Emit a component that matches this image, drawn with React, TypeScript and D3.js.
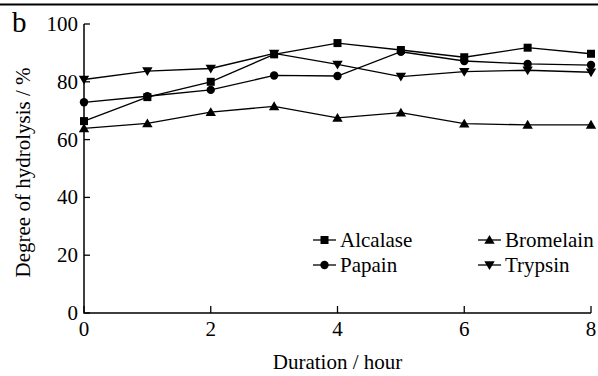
import * as d3 from "d3";
import React from 'react'

const hours = [0, 1, 2, 3, 4, 5, 6, 7, 8]
const alcalase = [66.4, 74.7, 80.0, 89.5, 93.4, 91.0, 88.5, 91.8, 89.7]
const papain = [72.9, 75.0, 77.2, 82.2, 82.0, 90.4, 87.2, 86.2, 85.8]
const bromelain = [63.9, 65.6, 69.5, 71.5, 67.5, 69.3, 65.5, 65.1, 65.1]
const trypsin = [80.8, 83.7, 84.6, 89.8, 86.0, 81.8, 83.5, 84.0, 83.3]
const xTicks = [0, 2, 4, 6, 8]
const yTicks = [0, 20, 40, 60, 80, 100]

type Series = { name: string, values: number[], marker: string }
const series: Series[] = [
  { name: "Alcalase", values: alcalase, marker: "square" },
  { name: "Papain", values: papain, marker: "circle" },
  { name: "Bromelain", values: bromelain, marker: "up" },
  { name: "Trypsin", values: trypsin, marker: "down" },
]

const W = 598, H = 376
const m = { l: 84, r: 591, t: 24, b: 313 }
const font = "Liberation Serif, Times New Roman, Times, serif"
const fs = 21

const Marker: React.FC<{ kind: string, x: number, y: number }> = ({ kind, x, y }) => {
  if (kind === "square") return <rect x={x - 4} y={y - 4} width={8} height={8} fill="black" />
  if (kind === "circle") return <circle cx={x} cy={y} r={4.2} fill="black" />
  if (kind === "up") return <path d={`M${x},${y - 5} L${x + 5.2},${y + 3.8} L${x - 5.2},${y + 3.8} Z`} fill="black" />
  return <path d={`M${x},${y + 5} L${x + 5.2},${y - 3.8} L${x - 5.2},${y - 3.8} Z`} fill="black" />
}

const App: React.FC = () => {
  const x = d3.scaleLinear([0, 8], [m.l, m.r])
  const y = d3.scaleLinear([0, 100], [m.b, m.t])
  const line = (vals: number[]) => d3.line<number>((_, i) => x(hours[i]), d => y(d))(vals) ?? ""

  // legend layout: two columns, two rows
  const legendPos = [
    { lx: 313, ly: 240 }, { lx: 313, ly: 265 },
    { lx: 478, ly: 240 }, { lx: 478, ly: 265 },
  ]

  return (
    <svg width={W} height={H} style={{ position: "absolute", left: 0, top: 0, background: "white", fontFamily: font }}>
      <line x1={0} x2={W} y1={4.5} y2={4.5} stroke="black" strokeWidth={2} />
      <text x={12} y={32} fontSize={29}>b</text>

      {/* axes */}
      <path d={`M${m.l},${m.t} L${m.l},${m.b} L${m.r},${m.b}`} fill="none" stroke="black" strokeWidth={1.5} />
      {yTicks.map(t => (
        <g key={"y" + t}>
          <line x1={m.l} x2={m.l + 6} y1={y(t)} y2={y(t)} stroke="black" strokeWidth={1.3} />
          <text x={m.l - 6} y={y(t) + 7} fontSize={fs} textAnchor="end">{t}</text>
        </g>
      ))}
      {xTicks.map(t => (
        <g key={"x" + t}>
          <line x1={x(t)} x2={x(t)} y1={m.b} y2={m.b - 7} stroke="black" strokeWidth={1.3} />
          <text x={x(t)} y={336} fontSize={fs} textAnchor="middle">{t}</text>
        </g>
      ))}
      <text transform={`translate(30, ${(m.t + m.b) / 2 + 4}) rotate(-90)`} fontSize={fs} textAnchor="middle">
        Degree of hydrolysis / %
      </text>
      <text x={(m.l + m.r) / 2} y={369} fontSize={fs} textAnchor="middle">Duration / hour</text>

      {/* series */}
      {series.map(s => (
        <g key={s.name}>
          <path d={line(s.values)} fill="none" stroke="black" strokeWidth={1.3} />
          {s.values.map((v, i) => <Marker key={i} kind={s.marker} x={x(hours[i])} y={y(v)} />)}
        </g>
      ))}

      {/* legend */}
      {series.map((s, i) => {
        const p = legendPos[i]
        return (
          <g key={"lg" + s.name}>
            <line x1={p.lx} x2={p.lx + 23} y1={p.ly} y2={p.ly} stroke="black" strokeWidth={1.3} />
            <Marker kind={s.marker} x={p.lx + 11.5} y={p.ly} />
            <text x={p.lx + 27} y={p.ly + 7} fontSize={fs}>{s.name}</text>
          </g>
        )
      })}
    </svg>
  )
}

export default App
